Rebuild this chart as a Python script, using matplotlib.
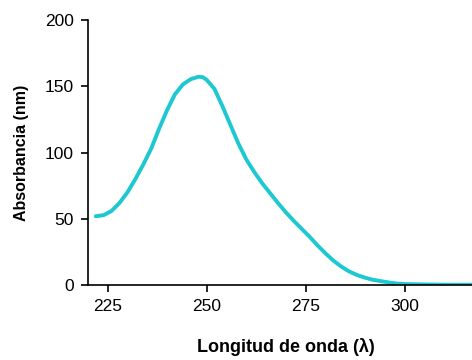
import matplotlib
matplotlib.use("Agg")
import matplotlib.pyplot as plt

# Absorption spectrum
wavelength = [222, 224, 226, 228, 230, 232, 234, 236, 238, 240, 242, 244, 246, 248,
              249, 250, 252, 254, 256, 258, 260, 262, 264, 266, 268, 270, 272, 274,
              276, 278, 280, 282, 284, 286, 288, 290, 292, 294, 296, 298, 300, 305,
              310, 317]
absorbance = [52, 52.8, 56, 62, 70, 80, 91, 103, 118, 132, 144, 151.5, 155.5, 157.3,
              157, 155, 148, 135, 121, 107, 95, 85.5, 77, 69.5, 62, 55, 48.5, 42.5,
              36.5, 30, 24, 18.5, 14, 10.3, 7.6, 5.6, 4, 3, 2, 1.2, 0.8, 0.5,
              0.3, 0.3]
x_ticks = [225, 250, 275, 300]
y_ticks = [0, 50, 100, 150, 200]

plt.rcParams["font.family"] = ["Liberation Sans", "DejaVu Sans"]

fig = plt.figure(figsize=(4.72, 3.6), dpi=100)
ax = fig.add_axes([0.186, 0.208, 0.814, 0.736])

ax.plot(wavelength, absorbance, color="#1ec8d0", linewidth=2.8,
        solid_capstyle="round", solid_joinstyle="round")

ax.set_xlim(220, 317)
ax.set_ylim(0, 200)
ax.set_xticks(x_ticks)
ax.set_yticks(y_ticks)
ax.tick_params(direction="out", length=5, width=1.2, labelsize=12.5, pad=5)
for side in ("top", "right"):
    ax.spines[side].set_visible(False)
for side in ("left", "bottom"):
    ax.spines[side].set_linewidth(1.2)

ax.set_xlabel("Longitud de onda (λ)", fontsize=13, fontweight="bold")
ax.xaxis.set_label_coords(0.516, -0.2)
ax.set_ylabel("Absorbancia (nm)", fontsize=11.5, fontweight="bold")
ax.yaxis.set_label_coords(-0.152, 0.5)

fig.savefig("out.png", dpi=100)
